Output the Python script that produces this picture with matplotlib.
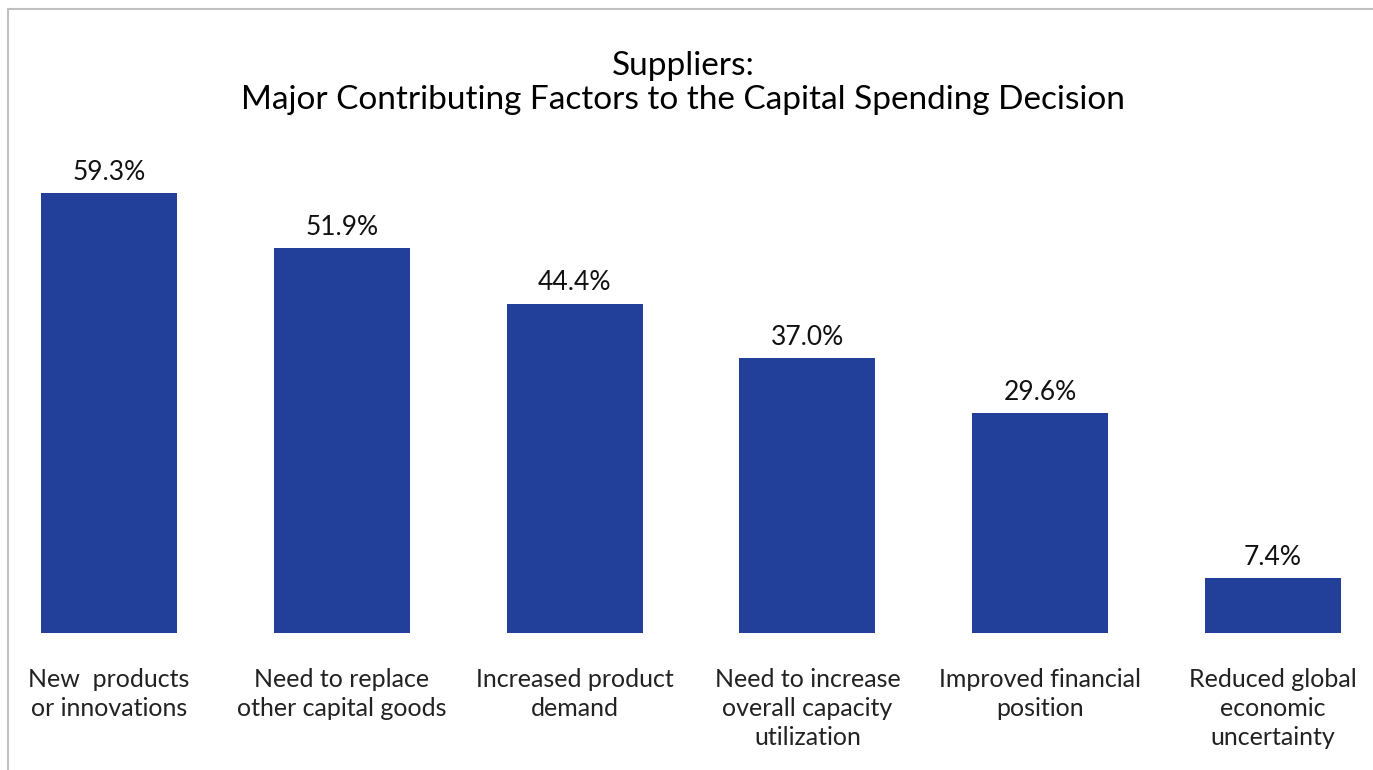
import matplotlib.pyplot as plt
from matplotlib.patches import Rectangle

categories = ["New  products\nor innovations",
              "Need to replace\nother capital goods",
              "Increased product\ndemand",
              "Need to increase\noverall capacity\nutilization",
              "Improved financial\nposition",
              "Reduced global\neconomic\nuncertainty"]
values = [59.3, 51.9, 44.4, 37.0, 29.6, 7.4]
value_labels = ["59.3%", "51.9%", "44.4%", "37.0%", "29.6%", "7.4%"]

plt.rcParams['font.family'] = ['Lato', 'DejaVu Sans']

W, H = 1373, 770
fig = plt.figure(figsize=(W / 100, H / 100), dpi=100)

# axes spans full width, bottom at bar baseline
bottom_px = 633
top_px = 150
ax = fig.add_axes([0, (H - bottom_px) / H, 1, (bottom_px - top_px) / H])
step = 232.8
c0 = 109
ax.set_xlim(-c0 / step, (W - c0) / step)
px_per_pct = 440 / 59.3
ax.set_ylim(0, (bottom_px - top_px) / px_per_pct)

x = list(range(len(values)))
bars = ax.bar(x, values, width=136 / step, color='#22409A')
for xi, v, lab in zip(x, values, value_labels):
    ax.annotate(lab, (xi, v), xytext=(0, 6), textcoords='offset points',
                ha='center', va='bottom', fontsize=19, color='#111111')

ax.set_xticks(x)
ax.set_xticklabels(categories, fontsize=18, color='#222222', linespacing=1.3)
ax.tick_params(axis='x', length=0, pad=25.5)
ax.set_yticks([])
for s in ax.spines.values():
    s.set_visible(False)
ax.patch.set_alpha(0)

fig.text(683 / W, 1 - 51 / H, "Suppliers:\nMajor Contributing Factors to the Capital Spending Decision",
         ha='center', va='top', fontsize=24, color='#000000', linespacing=1.15)

# outer frame
fig.patches.append(Rectangle((7.5 / W, -0.1), 1.2, 1 - 9.5 / H + 0.1, transform=fig.transFigure,
                             fill=False, edgecolor='#c0c0c0', linewidth=1.5, zorder=10))

fig.savefig('out.png', dpi=100)
